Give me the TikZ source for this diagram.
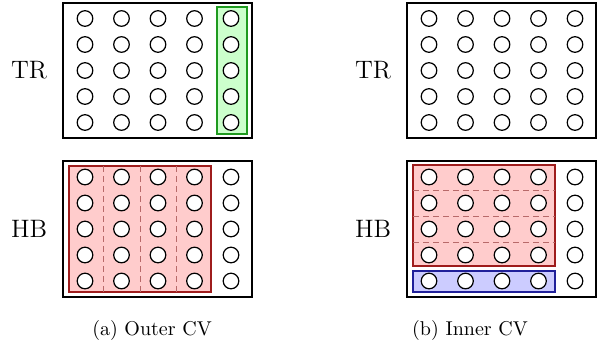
\documentclass[tikz,border=0pt]{standalone}
\usepackage{tikz}
\usetikzlibrary{positioning}
\definecolor{gline}{HTML}{1E9A1E}
\definecolor{gfill}{HTML}{CCFFCC}
\definecolor{rline}{HTML}{9E1C1C}
\definecolor{rfill}{HTML}{FFCCCC}
\definecolor{rdash}{HTML}{B86A6A}
\definecolor{bline}{HTML}{20209A}
\definecolor{bfill}{HTML}{CCCCFF}
\begin{document}
\begin{tikzpicture}[x=0.5pt,y=-0.5pt,
 tray/.style={draw=black,line width=.8pt},
 well/.style={circle,draw=black,fill=white,line width=.6pt,minimum size=7.8pt,inner sep=0pt},
 lab/.style={font=\fontsize{12.6}{15}\selectfont},
 subcap/.style={font=\fontsize{10}{12}\selectfont},
 gsel/.style={draw=gline,fill=gfill,line width=.6pt},
 rsel/.style={draw=rline,fill=rfill,line width=.6pt},
 bsel/.style={draw=bline,fill=bfill,line width=.6pt},
 fold/.style={draw=rdash,dash pattern=on 3pt off 2pt,line width=.5pt}]
\useasboundingbox (0,0) rectangle (598,343);
% outer CV
\node[lab] (trA) at (29,70.5) {TR};
\node[lab] (hbA) at (29,229) {HB};
\draw[tray] (63,3) rectangle (252,138);
\draw[tray] (63,161) rectangle (252,297);
\draw[gsel] (217,7) rectangle (247,134);
\draw[rsel] (69,166) rectangle (211,292);
\foreach \x in {103.5,140,176.5}
  \draw[fold] (\x,166) -- (\x,292);
\foreach \i in {0,...,4}
  \foreach \j in {0,...,4} {
    \node[well] (ta-\i-\j) at (85+36.5*\i,18.5+26*\j) {};
    \node[well] (ha-\i-\j) at (85+36.5*\i,177+26*\j) {};
  }
\node[subcap] (capA) at (152,330) {(a) Outer CV};
% inner CV
\node[lab] (trB) at (373,70.5) {TR};
\node[lab] (hbB) at (373,229) {HB};
\draw[tray] (407,3) rectangle (596,138);
\draw[tray] (407,161) rectangle (596,297);
\draw[rsel] (413,165) rectangle (555,266);
\draw[bsel] (413,271) rectangle (555,292);
\foreach \y in {190,216,242}
  \draw[fold] (413,\y) -- (555,\y);
\foreach \i in {0,...,4}
  \foreach \j in {0,...,4} {
    \node[well] (tb-\i-\j) at (429+36.5*\i,18.5+26*\j) {};
    \node[well] (hb-\i-\j) at (429+36.5*\i,177+26*\j) {};
  }
\node[subcap] (capB) at (470,330) {(b) Inner CV};
\end{tikzpicture}
\end{document}
